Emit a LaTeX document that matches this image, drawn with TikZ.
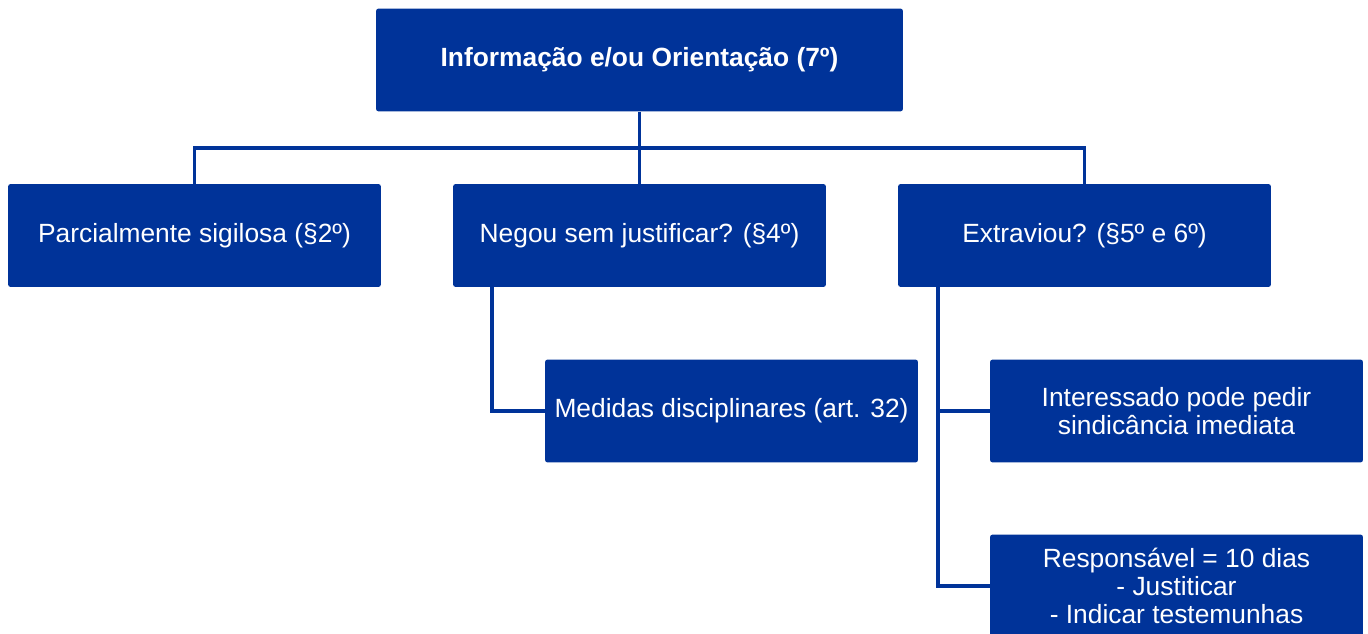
\documentclass[tikz,border=0pt]{standalone}
\usepackage{fontspec}
\setmainfont{Liberation Sans}
\definecolor{boxBlue}{RGB}{0,51,153}
\begin{document}
\begin{tikzpicture}[x=0.02cm, y=0.02cm,
  boxStyle/.style={rectangle, fill=boxBlue, rounded corners=1.5pt, text=white, align=center, minimum width=7.46cm, minimum height=2.06cm, inner sep=2pt, font=\fontsize{15}{15.9}\selectfont},
  topStyle/.style={boxStyle, minimum width=10.54cm, font=\fontsize{15}{15.9}\selectfont\bfseries},
  lineStyle/.style={draw=boxBlue, line width=2.1pt}]
  \useasboundingbox (0,0) rectangle (1368,-634);
  \node[topStyle] (info)        at ( 639.5, -60)   {Informação e/ou Orientação (7º)};
  \node[boxStyle] (parcial)     at ( 194.5,-235.5) {Parcialmente sigilosa (§2º)};
  \node[boxStyle] (negou)       at ( 639.5,-235.5) {Negou sem justificar? (§4º)};
  \node[boxStyle] (extraviou)   at (1084.5,-235.5) {Extraviou? (§5º e 6º)};
  \node[boxStyle] (medidas)     at ( 731.5,-411)   {Medidas disciplinares (art. 32)};
  \node[boxStyle] (interessado) at (1176.5,-411)   {Interessado pode pedir\\sindicância imediata};
  \node[boxStyle] (responsavel) at (1176.5,-586)   {Responsável = 10 dias\\- Justiticar\\- Indicar testemunhas};
  \coordinate (bus)        at (639.5,-148);
  \coordinate (negouDrop)  at (492,-287);
  \coordinate (extDrop)    at (938,-287);
  \draw[lineStyle] (info.south) -- (bus);
  \draw[lineStyle] (parcial.north) |- (bus) -| (extraviou.north);
  \draw[lineStyle] (negou.north) -- (negou.north |- bus);
  \draw[lineStyle] (negouDrop) |- (medidas.west);
  \draw[lineStyle] (extDrop) |- (responsavel.west);
  \draw[lineStyle] (extDrop |- interessado.west) -- (interessado.west);
\end{tikzpicture}
\end{document}
